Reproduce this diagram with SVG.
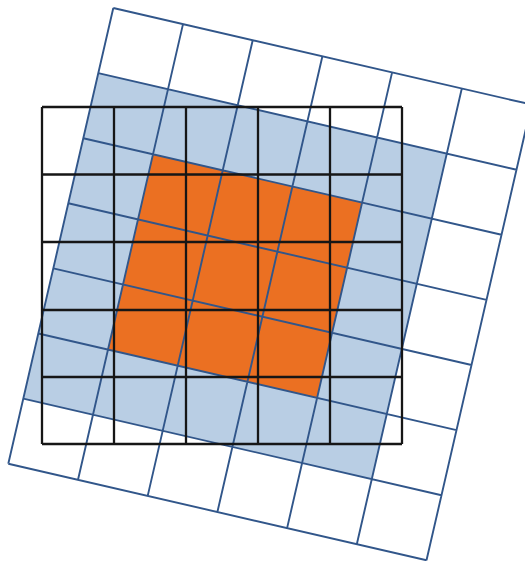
<svg xmlns="http://www.w3.org/2000/svg" width="525" height="561" viewBox="0 0 525 561">
<style>
.bl{fill:none;stroke:#161616;stroke-width:2.3}
.rg{fill:none;stroke:#31568a;stroke-width:1.9;vector-effect:non-scaling-stroke;stroke-linejoin:miter}
</style>
<rect width="525" height="561" fill="#ffffff"/>
<g id="rotated-fills" transform="matrix(69.7 16.1 -15 65.1 113.3 8)">
<rect id="blue-region" x="0" y="1" width="5" height="5" fill="#b9cee4"/>
<rect id="orange-region" x="1" y="2" width="3" height="3" fill="#eb7022"/>
</g>
<g id="rotated-grid" transform="matrix(69.7 16.1 -15 65.1 113.3 8)">
<path class="rg" d="M0 0V7M1 0V7M2 0V7M3 0V7M4 0V7M5 0V7M6 0V7M0 0H6M0 1H6M0 2H6M0 3H6M0 4H6M0 5H6M0 6H6M0 7H6"/>
</g>
<g id="square-grid">
<path class="bl" d="M42 107V444M114 107V444M186 107V444M258 107V444M330 107V444M402 107V444M42 107H402M42 174.5H402M42 242H402M42 310H402M42 377H402M42 444H402"/>
</g>
</svg>
